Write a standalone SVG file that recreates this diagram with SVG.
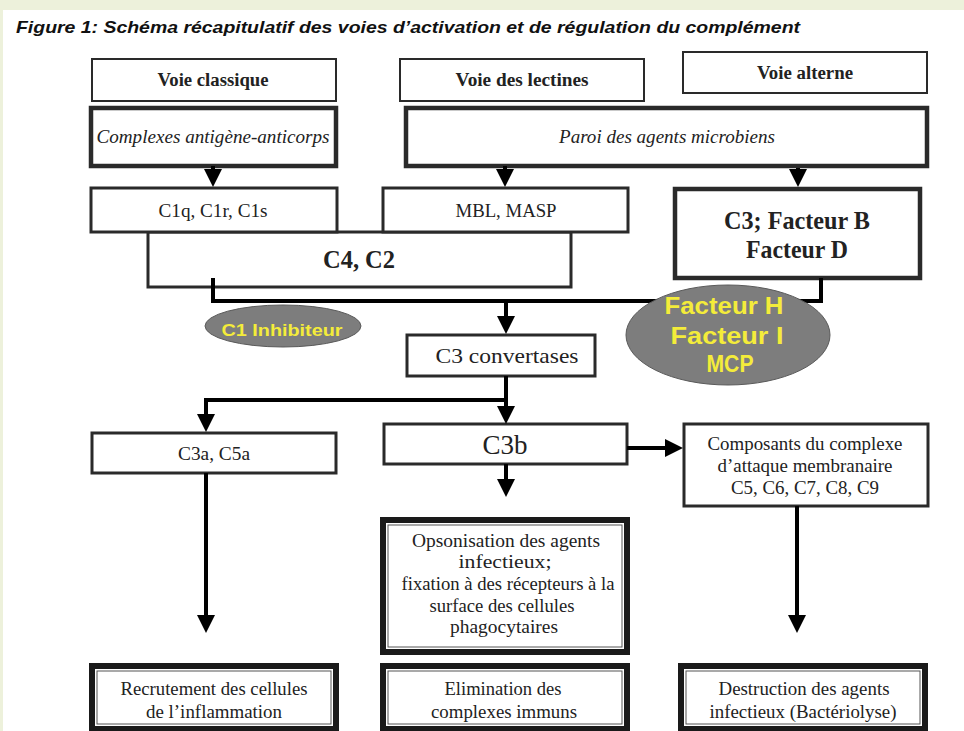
<svg xmlns="http://www.w3.org/2000/svg" width="964" height="731" viewBox="0 0 964 731">
<style>
.box{fill:#fff;stroke:#2a2a2a}
.thin{stroke-width:2}
.mid{stroke-width:3}
.thick{stroke-width:4.5}
.dbl{stroke-width:6;stroke:#1a1a1a}
.inner{fill:none;stroke:#555;stroke-width:1}
.t{font-family:"Liberation Serif","Times New Roman",serif;font-size:18px;fill:#222;text-anchor:middle}
.b{font-weight:bold}
.i{font-style:italic}
.big{font-size:25px}
.ell{fill:#7d7d7d;stroke:#5a5a5a;stroke-width:1}
.y{font-family:"Liberation Sans","DejaVu Sans",sans-serif;font-weight:bold;fill:#f4ec3a;text-anchor:middle}
.con{fill:none;stroke:#000;stroke-width:4}
</style>
<defs>
<marker id="ah" viewBox="0 0 18 18" refX="14" refY="9" markerWidth="18" markerHeight="18" markerUnits="userSpaceOnUse" orient="auto">
<path d="M0,0 L18,9 L0,18 z" fill="#000"/>
</marker>
</defs>
<rect x="0" y="0" width="964" height="731" fill="#edf1db"/>
<rect x="3" y="10" width="961" height="721" fill="#fff"/>
<text x="16" y="33" font-family="Liberation Sans, Arial, sans-serif" font-size="17" font-weight="bold" font-style="italic" fill="#111" textLength="784" lengthAdjust="spacingAndGlyphs">Figure 1: Schéma récapitulatif des voies d’activation et de régulation du complément</text>

<g id="voie-classique"><rect class="box thin" x="92" y="59" width="244" height="42"/><text class="t b" x="213" y="86" textLength="111" lengthAdjust="spacingAndGlyphs">Voie classique</text></g>
<g id="voie-lectines"><rect class="box thin" x="400" y="59" width="244" height="42"/><text class="t b" x="522" y="86" textLength="133" lengthAdjust="spacingAndGlyphs">Voie des lectines</text></g>
<g id="voie-alterne"><rect class="box thin" x="683" y="52" width="244" height="41"/><text class="t b" x="805" y="79" textLength="96" lengthAdjust="spacingAndGlyphs">Voie alterne</text></g>
<g id="complexes"><rect class="box thick" x="91" y="108" width="245" height="58"/><text class="t i" x="213" y="143" textLength="233" lengthAdjust="spacingAndGlyphs">Complexes antigène-anticorps</text></g>
<g id="paroi"><rect class="box thick" x="406" y="108" width="521" height="58"/><text class="t i" x="667" y="143" textLength="216" lengthAdjust="spacingAndGlyphs">Paroi des agents microbiens</text></g>
<g id="c4c2"><rect class="box mid" x="148" y="232" width="423" height="55"/><text class="t b big" x="359" y="268" textLength="72" lengthAdjust="spacingAndGlyphs">C4, C2</text></g>
<g id="c1qrs"><rect class="box mid" x="91" y="188" width="246" height="44"/><text class="t" x="213" y="217" textLength="109" lengthAdjust="spacingAndGlyphs">C1q, C1r, C1s</text></g>
<g id="mbl-masp"><rect class="box mid" x="383" y="188" width="245" height="44"/><text class="t" x="506" y="217" textLength="101" lengthAdjust="spacingAndGlyphs">MBL, MASP</text></g>
<g id="c3-facteurs"><rect class="box thick" x="675" y="189" width="245" height="89"/><text class="t b big" x="797" y="229" textLength="146" lengthAdjust="spacingAndGlyphs">C3; Facteur B</text><text class="t b big" x="797" y="258" textLength="102" lengthAdjust="spacingAndGlyphs">Facteur D</text></g>
<g id="c3-convertases"><rect class="box mid" x="407" y="335" width="188" height="41"/><text class="t" x="507" y="363" style="font-size:22px" textLength="143" lengthAdjust="spacingAndGlyphs">C3 convertases</text></g>
<g id="c3a-c5a"><rect class="box mid" x="92" y="433" width="244" height="40"/><text class="t" x="214" y="460" textLength="72" lengthAdjust="spacingAndGlyphs">C3a, C5a</text></g>
<g id="c3b"><rect class="box mid" x="384" y="424" width="243" height="40"/><text class="t" x="505" y="454" style="font-size:27px" textLength="45" lengthAdjust="spacingAndGlyphs">C3b</text></g>
<g id="composants"><rect class="box mid" x="684" y="424" width="244" height="82"/>
<text class="t" x="805" y="450" textLength="195" lengthAdjust="spacingAndGlyphs">Composants du complexe</text>
<text class="t" x="805" y="472" textLength="175" lengthAdjust="spacingAndGlyphs">d’attaque membranaire</text>
<text class="t" x="805" y="494" textLength="148" lengthAdjust="spacingAndGlyphs">C5, C6, C7, C8, C9</text></g>
<g id="opsonisation"><rect class="box dbl" x="383" y="520" width="244" height="132"/><rect class="inner" x="388" y="525" width="234" height="122"/>
<text class="t" x="506" y="547" textLength="188" lengthAdjust="spacingAndGlyphs">Opsonisation des agents</text>
<text class="t" x="505" y="568" textLength="93" lengthAdjust="spacingAndGlyphs">infectieux;</text>
<text class="t" x="508" y="590" textLength="213" lengthAdjust="spacingAndGlyphs">fixation à des récepteurs à la</text>
<text class="t" x="502" y="612" textLength="145" lengthAdjust="spacingAndGlyphs">surface des cellules</text>
<text class="t" x="504" y="633" textLength="108" lengthAdjust="spacingAndGlyphs">phagocytaires</text></g>
<g id="recrutement"><rect class="box dbl" x="92" y="666" width="244" height="63"/><rect class="inner" x="97" y="671" width="234" height="53"/>
<text class="t" x="214" y="695" textLength="187" lengthAdjust="spacingAndGlyphs">Recrutement des cellules</text>
<text class="t" x="214" y="718" textLength="136" lengthAdjust="spacingAndGlyphs">de l’inflammation</text></g>
<g id="elimination"><rect class="box dbl" x="383" y="666" width="244" height="63"/><rect class="inner" x="388" y="671" width="234" height="53"/>
<text class="t" x="503" y="695" textLength="117" lengthAdjust="spacingAndGlyphs">Elimination des</text>
<text class="t" x="504" y="718" textLength="146" lengthAdjust="spacingAndGlyphs">complexes immuns</text></g>
<g id="destruction"><rect class="box dbl" x="681" y="666" width="244" height="63"/><rect class="inner" x="686" y="671" width="234" height="53"/>
<text class="t" x="804" y="695" textLength="171" lengthAdjust="spacingAndGlyphs">Destruction des agents</text>
<text class="t" x="803" y="718" textLength="187" lengthAdjust="spacingAndGlyphs">infectieux (Bactériolyse)</text></g>

<g id="connectors">
<path class="con" d="M213,166 V183" marker-end="url(#ah)"/>
<path class="con" d="M505,166 V183" marker-end="url(#ah)"/>
<path class="con" d="M798,168 V183" marker-end="url(#ah)"/>
<path class="con" d="M213,278 V301 H821 V278"/>
<path class="con" d="M506,301 V330" marker-end="url(#ah)"/>
<path class="con" d="M506,376 V420" marker-end="url(#ah)"/>
<path class="con" d="M506,400 H206 V428" marker-end="url(#ah)"/>
<path class="con" d="M627,448 H679" marker-end="url(#ah)"/>
<path class="con" d="M506,464 V493" marker-end="url(#ah)"/>
<path class="con" d="M206,473 V629" marker-end="url(#ah)"/>
<path class="con" d="M797,506 V629" marker-end="url(#ah)"/>
</g>

<g id="c1-inhibiteur"><ellipse class="ell" cx="283" cy="326" rx="78" ry="21"/><text class="y" x="282" y="336" font-size="16" textLength="121" lengthAdjust="spacingAndGlyphs">C1 Inhibiteur</text></g>
<g id="facteurs-regulation"><ellipse class="ell" cx="728" cy="335" rx="102" ry="50"/>
<text class="y" x="724" y="314" font-size="23" textLength="119" lengthAdjust="spacingAndGlyphs">Facteur H</text>
<text class="y" x="727" y="344" font-size="23" textLength="113" lengthAdjust="spacingAndGlyphs">Facteur I</text>
<text class="y" x="730" y="372" font-size="23" textLength="47" lengthAdjust="spacingAndGlyphs">MCP</text></g>
</svg>
